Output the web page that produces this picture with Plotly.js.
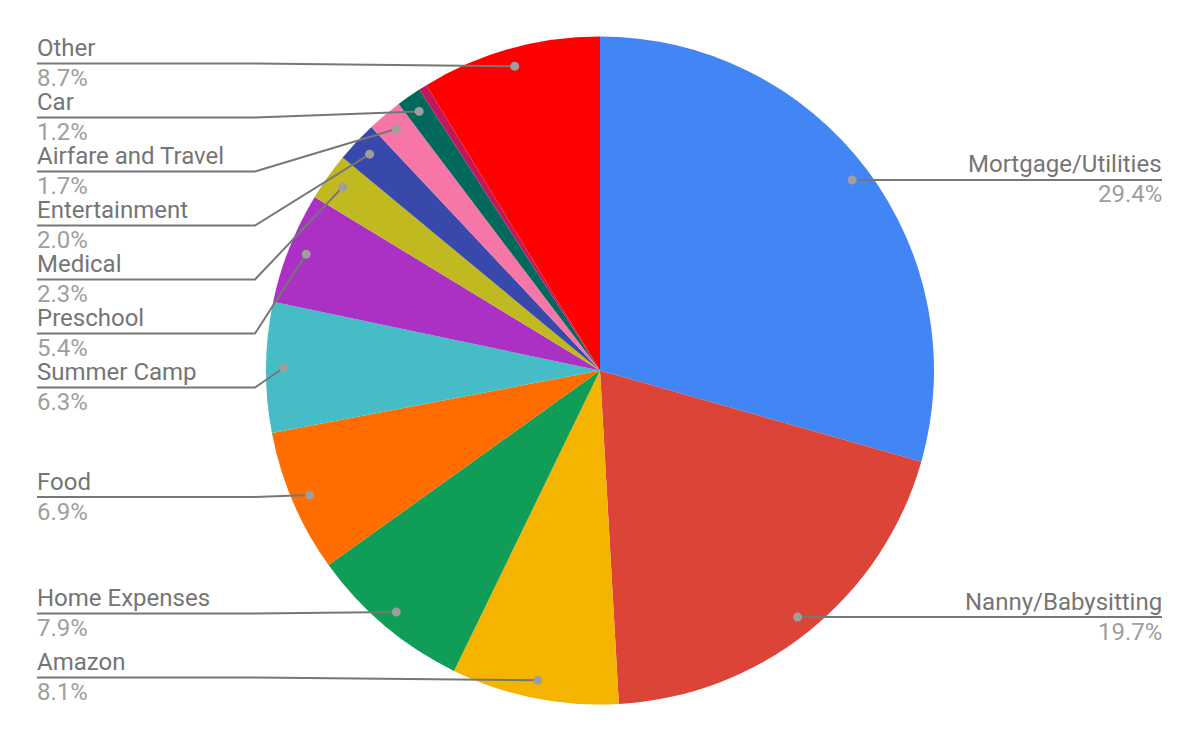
<!DOCTYPE html>
<html>
<head>
<meta charset="utf-8">
<script src="https://cdn.plot.ly/plotly-3.0.1.min.js"></script>
<style>html,body{margin:0;padding:0;background:#fff;}#chart{width:1200px;height:741px;}</style>
</head>
<body>
<div id="chart"></div>
<script>
// ---- data ----
const categories = ["Mortgage/Utilities","Nanny/Babysitting","Amazon","Home Expenses","Food","Summer Camp","Preschool","Medical","Entertainment","Airfare and Travel","Car","(unlabeled)","Other"];
const shares = [29.4,19.7,8.1,7.9,6.9,6.3,5.4,2.3,2.0,1.7,1.2,0.4,8.7];
const sliceColors = ["#4285F4","#DB4437","#F4B400","#0F9D58","#FF6D00","#46BDC6","#AB30C4","#C0BA20","#3949AB","#F776A8","#00695C","#C2185B","#FF0000"];

// ---- label layout (side and leader-line row in page pixels; null = follow dot) ----
const labelSide = ["right","right","left","left","left","left","left","left","left","left","left","none","left"];
const labelRowY = [null,null,677.5,613.5,497,387.5,333.5,279.5,225.5,171.5,117.5,null,63.5];

const W = 1200, H = 741;
const CX = 600, CY = 370.5, R = 334, RDOT = 316;
const LEFT_X = 37, BEND_X = 255, RIGHT_X = 1162;
const px = x => x / W, py = y => 1 - y / H;

const total = shares.reduce((a, b) => a + b, 0);
const shapes = [], annotations = [];
let cum = 0;
shares.forEach((v, i) => {
  const mid = (cum + v / 2) / total;
  cum += v;
  if (labelSide[i] === "none") return;
  const th = mid * 2 * Math.PI;
  const dx = CX + RDOT * Math.sin(th), dy = CY - RDOT * Math.cos(th);
  const pct = (v / total * 100).toFixed(1) + "%";
  let rowY, path, tx, anchor;
  if (labelSide[i] === "right") {
    rowY = dy;
    path = `M ${px(dx)} ${py(dy)} L ${px(RIGHT_X)} ${py(dy)}`;
    tx = RIGHT_X + 2; anchor = "right";
  } else {
    rowY = labelRowY[i];
    path = `M ${px(LEFT_X)} ${py(rowY)} L ${px(BEND_X)} ${py(rowY)} L ${px(dx)} ${py(dy)}`;
    tx = LEFT_X - 2; anchor = "left";
  }
  shapes.push({type: "path", xref: "paper", yref: "paper", path: path, line: {color: "#777777", width: 2}});
  const rd = 4.5;
  shapes.push({type: "circle", xref: "paper", yref: "paper",
    x0: px(dx - rd), x1: px(dx + rd), y0: py(dy + rd), y1: py(dy - rd),
    fillcolor: "#9E9E9E", line: {width: 0}});
  annotations.push({xref: "paper", yref: "paper", x: px(tx), y: py(rowY - 15.5), xanchor: anchor, yanchor: "middle",
    text: categories[i], showarrow: false, font: {family: "Roboto", size: 24, color: "#757575"}});
  annotations.push({xref: "paper", yref: "paper", x: px(tx), y: py(rowY + 14.5), xanchor: anchor, yanchor: "middle",
    text: pct, showarrow: false, font: {family: "Roboto", size: 24, color: "#9E9E9E"}});
});

const trace = {
  type: "pie",
  labels: categories,
  values: shares,
  sort: false,
  direction: "clockwise",
  rotation: 0,
  textinfo: "none",
  hoverinfo: "label+percent",
  marker: {colors: sliceColors, line: {width: 0}},
  domain: {x: [px(CX - R), px(CX + R)], y: [py(CY + R), py(CY - R)]},
  showlegend: false
};

const layout = {
  width: W, height: H,
  margin: {l: 0, r: 0, t: 0, b: 0},
  paper_bgcolor: "#ffffff",
  showlegend: false,
  shapes: shapes,
  annotations: annotations
};

Plotly.newPlot("chart", [trace], layout, {displayModeBar: false, staticPlot: true});
</script>
</body>
</html>
